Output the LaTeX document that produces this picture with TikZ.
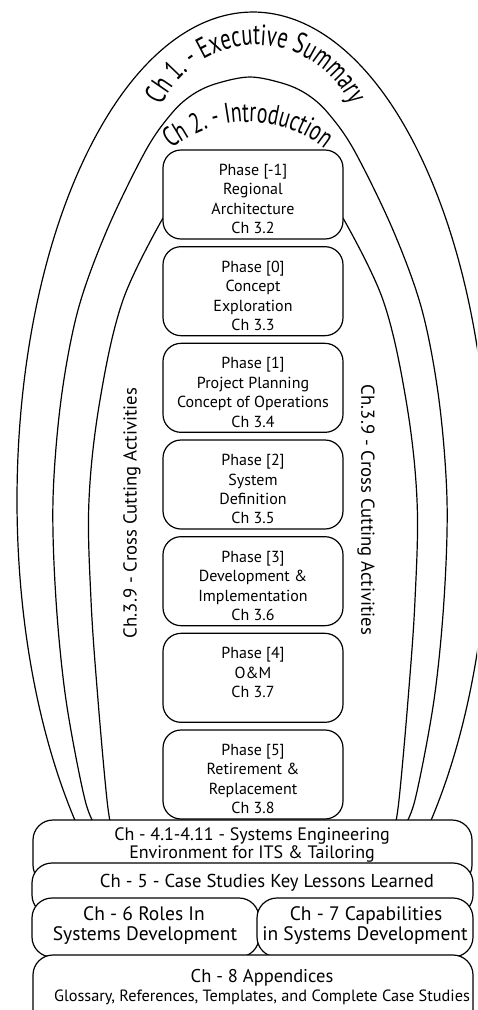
\documentclass[tikz,border=0pt]{standalone}
\usepackage{fontspec}
\newfontfamily\dgfont{PT Sans}
\newfontfamily\archf[FakeStretch=0.7]{PT Sans}
\usetikzlibrary{decorations.text}
\newcommand\archfont{\archf\fontsize{29.5}{30}\selectfont}
\newcommand\archfontb{\archf\fontsize{28.5}{29}\selectfont}
\begin{document}
\begin{tikzpicture}[x=1pt,y=-1pt,
  line width=1.2pt,
  phasebox/.style={draw, fill=white, rounded corners=18pt, minimum width=180pt, minimum height=89pt, inner sep=0pt},
  phasetext/.style={anchor=north, align=center, inner sep=0pt, font=\dgfont\fontsize{16}{19.5}\selectfont},
  chbox/.style={draw, fill=white, rounded corners=20pt, inner sep=0pt},
  chline/.style={anchor=base, inner sep=0pt, font=\dgfont\fontsize{19.5}{20}\selectfont},
  sidetext/.style={inner sep=0pt, font=\dgfont\fontsize{18.7}{20}\selectfont},
]
\useasboundingbox (0,0) rectangle (477,1010);
\clip (0,0) rectangle (477,1010);
\fill[white] (0,0) rectangle (477,1010);

% outer arch (Ch 1)
\draw (253,500) ++(222.5:236pt and 488pt)
  arc[start angle=222.5, end angle=-42.5, x radius=236pt, y radius=488pt];
% middle arch (Ch 2)
\draw plot[smooth, tension=0.55] coordinates
  {(98,830) (85,800) (66,700) (56,600) (53,500) (61,400) (78,310) (107,230)
   (146,150) (172,113) (192,95) (215,84) (250,77) (285,84) (308,95) (328,113)
   (354,150) (393,230) (422,310) (439,400) (447,500) (444,600) (434,700)
   (415,800) (402,830)};

% inner arch (Ch 3.9), hanging from the first phase box
\draw plot[smooth, tension=0.6] coordinates
  {(163,218) (123,300) (100,400) (89,500) (91,600) (98,700) (107,800) (112,830)};
\draw plot[smooth, tension=0.6] coordinates
  {(343,218) (383,300) (406,400) (417,500) (415,600) (408,700) (399,800) (394,830)};

% arch titles
\path[decorate, decoration={text along path, text align=center,
  text={|\archfont|Ch 1. - Executive Summary}}]
  (256,149) ++(180:104pt) arc[start angle=180, end angle=0, radius=104pt];
\path[decorate, decoration={text along path, text align=center,
  text={|\archfontb|Ch 2. - Introduction}}]
  (248,244) ++(180:122pt) arc[start angle=180, end angle=0, radius=122pt];

% cross cutting labels
\node[sidetext, rotate=90] (ccl) at (132,513) {Ch.3.9 - Cross Cutting Activities};
\node[sidetext, rotate=-90] (ccr) at (366,510) {Ch.3.9 - Cross Cutting Activities};

% phase boxes
\node[phasebox] (p1) at (253,194.5) {};
\node[phasetext] (t1) at (253,163.5) {Phase [-1]\\Regional\\Architecture\\Ch 3.2};
\node[phasebox] (p2) at (253,291.17) {};
\node[phasetext] (t2) at (253,260.17) {Phase [0]\\Concept\\Exploration\\Ch 3.3};
\node[phasebox] (p3) at (253,387.83) {};
\node[phasetext] (t3) at (253,356.83) {Phase [1]\\Project Planning\\Concept of Operations\\Ch 3.4};
\node[phasebox] (p4) at (253,484.5) {};
\node[phasetext] (t4) at (253,453.5) {Phase [2]\\System\\Definition\\Ch 3.5};
\node[phasebox] (p5) at (253,581.17) {};
\node[phasetext] (t5) at (253,550.17) {Phase [3]\\Development \&\\Implementation\\Ch 3.6};
\node[phasebox] (p6) at (253,677.83) {};
\node[phasetext] (t6) at (253,646.83) {Phase [4]\\O\&M\\Ch 3.7};
\node[phasebox] (p7) at (253,774.5) {};
\node[phasetext] (t7) at (253,743.5) {Phase [5]\\Retirement \&\\Replacement\\Ch 3.8};

% chapter boxes along the base
\node[chbox, minimum width=439pt, minimum height=65pt] (c4) at (252.5,852.5) {};
\node[chbox, minimum width=441pt, minimum height=52pt] (c5) at (252.5,889) {};
\node[chbox, minimum width=227pt, minimum height=59pt] (c6) at (145.5,927.5) {};
\node[chbox, minimum width=216pt, minimum height=59pt] (c7) at (365,927.5) {};
\node[chbox, minimum width=440pt, minimum height=75pt] (c8) at (253,992.5) {};

\node[chline, font=\dgfont\fontsize{18}{18}\selectfont] (c4a) at (252,840) {Ch - 4.1-4.11 - Systems Engineering};
\node[chline, font=\dgfont\fontsize{18}{18}\selectfont] (c4b) at (252,858) {Environment for ITS \& Tailoring};
\node[chline, font=\dgfont\fontsize{18.7}{19}\selectfont] (c5a) at (267,887) {Ch - 5 - Case Studies Key Lessons Learned};
\node[chline] (c6a) at (144,920) {Ch - 6 Roles In};
\node[chline] (c6b) at (145,940) {Systems Development};
\node[chline] (c7a) at (366,920) {Ch - 7 Capabilities};
\node[chline] (c7b) at (365,940) {in Systems Development};
\node[chline, font=\dgfont\fontsize{18.5}{19}\selectfont] (c8a) at (262,982) {Ch - 8 Appendices};
\node[chline, font=\dgfont\fontsize{16.3}{17}\selectfont] (c8b) at (262,1001) {Glossary, References, Templates, and Complete Case Studies};
\end{tikzpicture}
\end{document}
